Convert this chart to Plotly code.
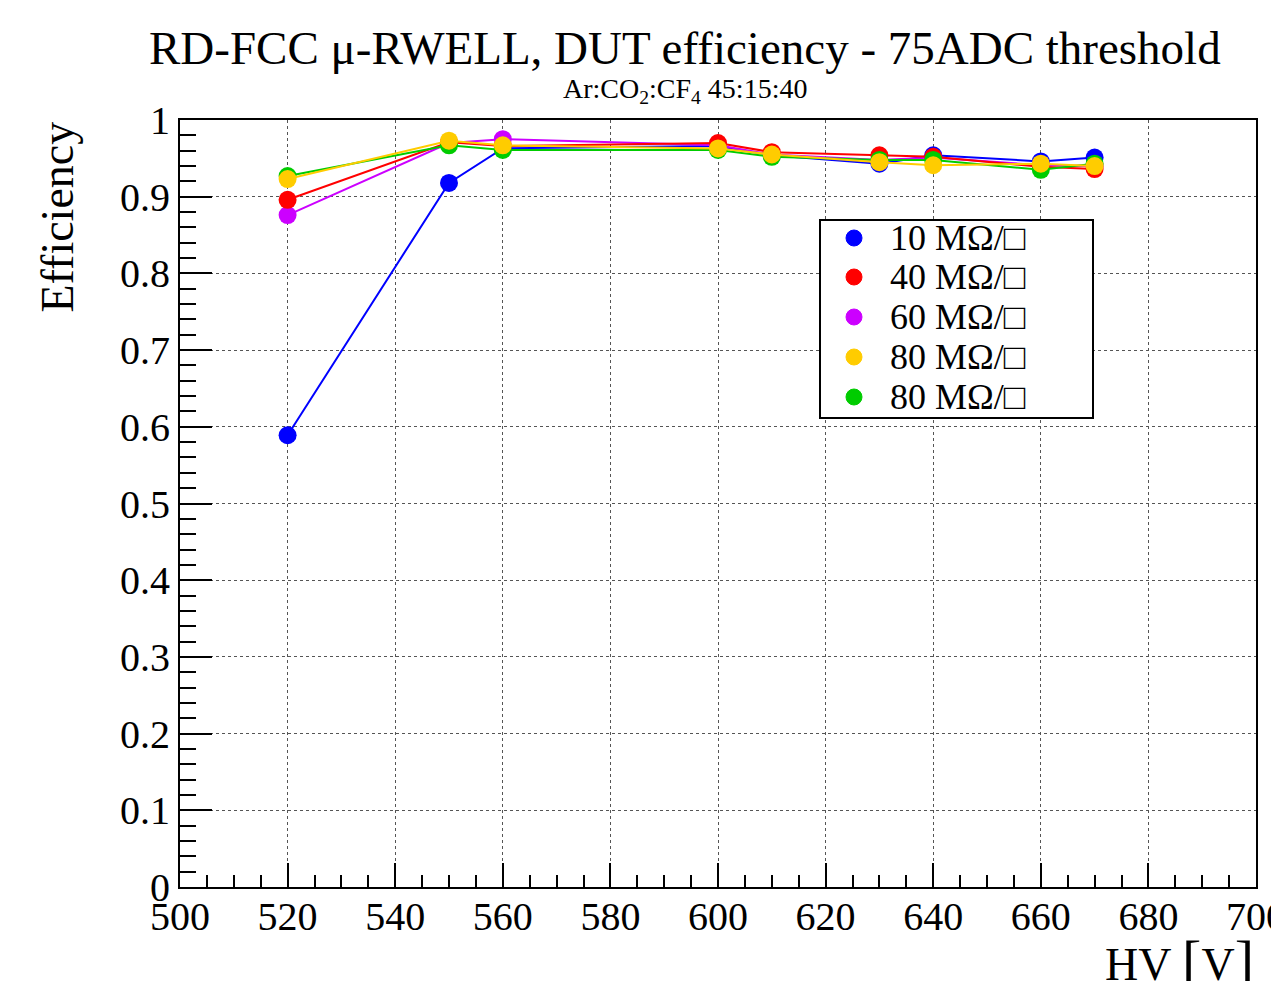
import plotly.graph_objects as go

hv = [520, 550, 560, 600, 610, 630, 640, 660, 670]

eff_10 = [0.589, 0.918, 0.963, 0.966, 0.954, 0.943, 0.954, 0.946, 0.951]
eff_40 = [0.896, 0.971, 0.966, 0.970, 0.958, 0.954, 0.952, 0.939, 0.936]
eff_60 = [0.876, 0.970, 0.975, 0.967, 0.955, 0.948, 0.951, 0.941, 0.940]
eff_80a = [0.923, 0.973, 0.967, 0.963, 0.955, 0.945, 0.941, 0.943, 0.940]
eff_80b = [0.927, 0.967, 0.961, 0.961, 0.952, 0.948, 0.948, 0.935, 0.943]

labels = ["10 MΩ/□", "40 MΩ/□", "60 MΩ/□", "80 MΩ/□", "80 MΩ/□"]
colors = ["#0000ff", "#ff0000", "#cc00ff", "#ffcc00", "#00cc00"]
series = [eff_10, eff_40, eff_60, eff_80a, eff_80b]

FONT = "Liberation Serif, Times New Roman, serif"

# figure geometry (page body has an 8px margin)
W, H = 1263, 973
L, R, T, B = 172, 15, 112, 94
PW, PH = W - L - R, H - T - B


def px_x(fx):
    return (fx - L) / PW


def px_y(fy):
    return (H - B - fy) / PH


fig = go.Figure()

# draw order: blue, magenta, red, green, yellow
for i in [0, 2, 1, 4, 3]:
    fig.add_trace(go.Scatter(
        x=hv, y=series[i], mode="lines+markers",
        line=dict(color=colors[i], width=2),
        marker=dict(color=colors[i], size=18),
        showlegend=False,
    ))

axis_common = dict(
    showline=True, linecolor="black", linewidth=2, mirror=True,
    ticks="inside", tickcolor="black", tickwidth=2,
    showgrid=True, gridcolor="#555555", gridwidth=1, griddash="dot",
    zeroline=False, automargin=False,
    tickfont=dict(family=FONT, size=40, color="black"),
    ticklabeloverflow="allow",
)

fig.update_xaxes(
    range=[500, 700], tickmode="linear", tick0=500, dtick=20, ticklen=24,
    minor=dict(ticks="inside", dtick=5, ticklen=12, tickcolor="black", tickwidth=2, showgrid=False),
    ticklabelstandoff=-7,
    **axis_common,
)
fig.update_yaxes(
    range=[0, 1], tickmode="linear", tick0=0, dtick=0.1, ticklen=32,
    minor=dict(ticks="inside", dtick=0.02, ticklen=16, tickcolor="black", tickwidth=2, showgrid=False),
    ticklabelstandoff=0,
    **axis_common,
)

# manual ROOT-style legend (box, marker dots, labels)
shapes = [dict(type="rect", xref="paper", yref="paper",
               x0=px_x(812), x1=px_x(1085), y0=px_y(410), y1=px_y(212),
               line=dict(color="black", width=2), fillcolor="white", layer="above")]
annotations = []
row_y = [230, 269, 309, 349, 389]
for i in range(5):
    yc = px_y(row_y[i])
    shapes.append(dict(type="circle", xref="paper", yref="paper",
                       xsizemode="pixel", ysizemode="pixel",
                       xanchor=px_x(846), yanchor=yc,
                       x0=-8, x1=8, y0=-8, y1=8,
                       fillcolor=colors[i], line=dict(color=colors[i], width=1),
                       layer="above"))
    annotations.append(dict(text=labels[i], xref="paper", yref="paper",
                            x=px_x(880), y=yc, xanchor="left", yanchor="middle",
                            showarrow=False,
                            font=dict(family=FONT, size=36, color="black")))

annotations += [
    dict(text="RD-FCC μ-RWELL, DUT efficiency - 75ADC threshold",
         xref="paper", yref="paper", x=px_x(677), y=1.0, yshift=72,
         xanchor="center", yanchor="middle", showarrow=False,
         font=dict(family=FONT, size=47, color="black")),
    dict(text="Ar:CO<sub>2</sub>:CF<sub>4</sub> 45:15:40",
         xref="paper", yref="paper", x=px_x(677), y=1.0, yshift=30,
         xanchor="center", yanchor="middle", showarrow=False,
         font=dict(family=FONT, size=28, color="black")),
    dict(text="Efficiency", textangle=-90,
         xref="paper", yref="paper", x=0, y=1.0, xshift=-123,
         xanchor="center", yanchor="top", showarrow=False,
         font=dict(family=FONT, size=46, color="black")),
    dict(text="HV <span style='font-size:58px'>[</span>V<span style='font-size:58px'>]</span>",
         xref="paper", yref="paper", x=1.0, y=0, yshift=-73,
         xanchor="right", yanchor="middle", showarrow=False,
         font=dict(family=FONT, size=46, color="black")),
]

fig.update_layout(
    width=W, height=H,
    margin=dict(l=L, r=R, t=T, b=B, autoexpand=False),
    paper_bgcolor="white", plot_bgcolor="white",
    font=dict(family=FONT, color="black"),
    showlegend=False,
    shapes=shapes,
    annotations=annotations,
)

fig.write_html("out.html")
